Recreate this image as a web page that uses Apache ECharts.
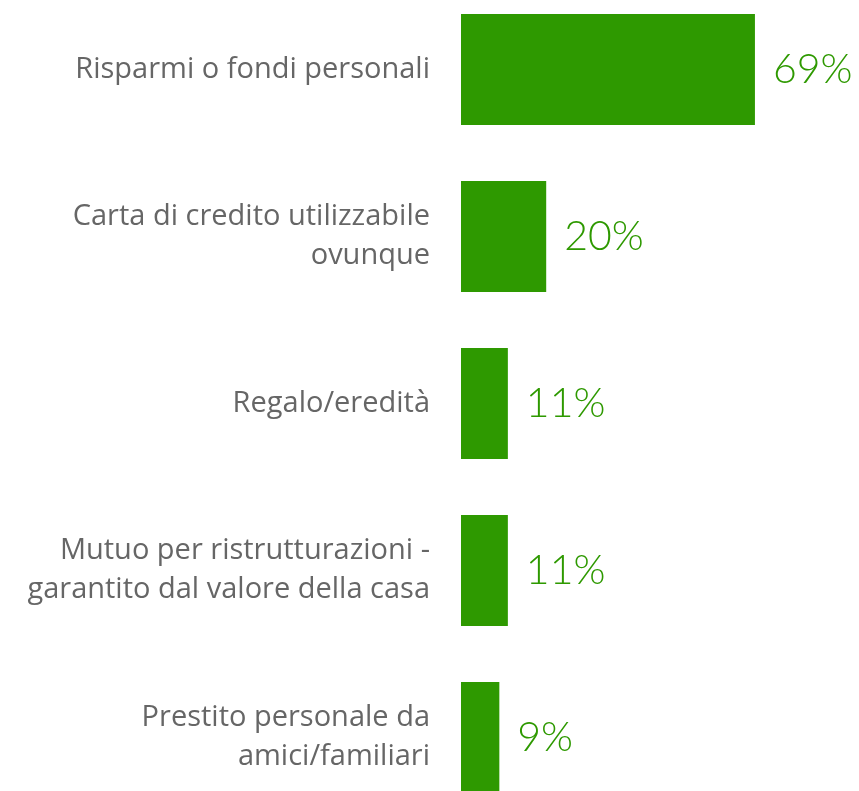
<!DOCTYPE html>
<html>
<head>
<meta charset="utf-8">
<script src="https://cdn.jsdelivr.net/npm/echarts@6/dist/echarts.min.js"></script>
<style>
	html,body{margin:0;padding:0;background:#fff;}
	#main{width:859px;height:791px;}
</style>
</head>
<body>
<div id="main"></div>
<script>
	// categories, top to bottom
	var categories = [
		'Risparmi o fondi personali',
		'Carta di credito utilizzabile\novunque',
		'Regalo/eredità',
		'Mutuo per ristrutturazioni -\ngarantito dal valore della casa',
		'Prestito personale da\namici/familiari'
	];
	var values = [69, 20, 11, 11, 9];

	var chart = echarts.init(document.getElementById('main'));
	var option = {
		animation: false,
		grid: {
			left: 461,
			top: -14,
			width: 426,
			height: 835,
			containLabel: false,
			outerBoundsMode: 'none'
		},
		xAxis: {
			type: 'value',
			min: 0,
			max: 100,
			show: false
		},
		yAxis: {
			type: 'category',
			inverse: true,
			data: categories,
			axisLine: {show: false},
			axisTick: {show: false},
			axisLabel: {
				margin: 31,
				color: '#666666',
				fontFamily: 'Open Sans',
				fontSize: 29,
				lineHeight: 39,
				align: 'right'
			}
		},
		series: [{
			type: 'bar',
			data: values,
			barWidth: 111,
			itemStyle: {color: '#2E9900'},
			label: {
				show: true,
				position: 'right',
				distance: 18,
				color: '#2E9900',
				fontFamily: 'Lato',
				fontWeight: 300,
				fontSize: 41,
				formatter: '{c}%'
			}
		}]
	};
	chart.setOption(option);
</script>
</body>
</html>
